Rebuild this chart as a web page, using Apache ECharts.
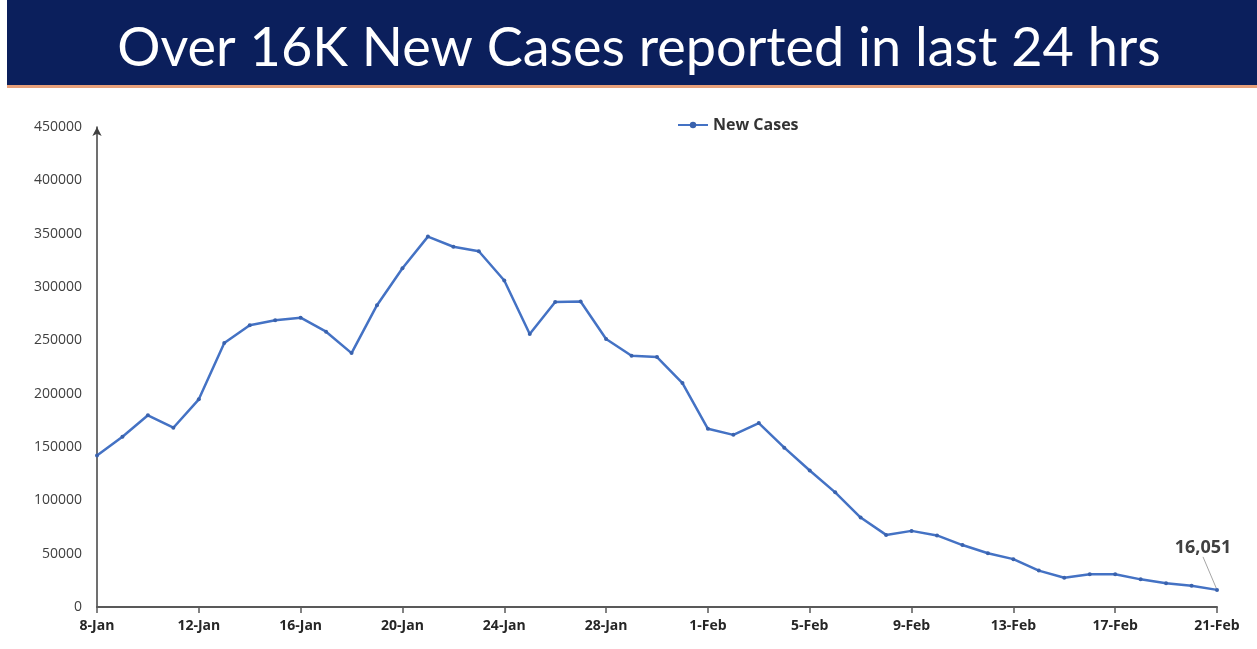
<!DOCTYPE html>
<html>
<head>
<meta charset="utf-8">
<script src="https://cdn.jsdelivr.net/npm/echarts@6/dist/echarts.min.js"></script>
<style>
html,body{margin:0;padding:0;background:#fff;}
#chart{width:1257px;height:649px;}
</style>
</head>
<body>
<div id="chart"></div>
<script>
const titleText = "Over 16K New Cases reported in last 24 hrs";
const seriesName = "New Cases";
const categories = ["8-Jan","9-Jan","10-Jan","11-Jan","12-Jan","13-Jan","14-Jan","15-Jan","16-Jan","17-Jan","18-Jan","19-Jan","20-Jan","21-Jan","22-Jan","23-Jan","24-Jan","25-Jan","26-Jan","27-Jan","28-Jan","29-Jan","30-Jan","31-Jan","1-Feb","2-Feb","3-Feb","4-Feb","5-Feb","6-Feb","7-Feb","8-Feb","9-Feb","10-Feb","11-Feb","12-Feb","13-Feb","14-Feb","15-Feb","16-Feb","17-Feb","18-Feb","19-Feb","20-Feb","21-Feb"];
const newCases = [141986,159632,179723,168063,194720,247417,264202,268833,271202,258089,238018,282970,317532,347254,337704,333533,306064,255874,285914,286384,251209,235532,234281,209918,167059,161386,172433,149394,127952,107474,83876,67597,71365,67084,58077,50407,44877,34113,27409,30615,30757,25920,22270,19968,16051];
const yTicks = [0,50000,100000,150000,200000,250000,300000,350000,400000,450000];

const chart = echarts.init(document.getElementById('chart'));
const lastIdx = newCases.length - 1;
const seriesData = newCases.map((v, i) => i === lastIdx ? {
  value: v,
  label: {
    show: true,
    formatter: (p) => p.value.toLocaleString('en-US'),
    position: 'top',
    fontFamily: 'Open Sans',
    fontWeight: 'bold',
    fontSize: 18,
    color: '#404040'
  },
  labelLine: { show: true, lineStyle: { color: '#a6a6a6', width: 1 } }
} : v);

chart.setOption({
  animation: false,
  backgroundColor: '#ffffff',
  graphic: [
    { type: 'rect', shape: { x: 7, y: 0, width: 1250, height: 85 }, style: { fill: '#0b1f5c' }, z: 0 },
    { type: 'rect', shape: { x: 7, y: 85, width: 1250, height: 3 }, style: { fill: '#e8a07a' }, z: 0 }
  ],
  title: {
    text: titleText,
    left: 634,
    textAlign: 'center',
    top: 17,
    textStyle: { color: '#ffffff', fontFamily: 'Lato', fontWeight: 'normal', fontSize: 54 }
  },
  legend: {
    left: 672,
    top: 112,
    itemWidth: 30,
    itemHeight: 8,
    itemGap: 2,
    textStyle: { fontFamily: 'Open Sans', fontSize: 16, color: '#333333', fontWeight: 'bold' },
    data: [seriesName]
  },
  grid: { left: 97, right: 40, top: 127, bottom: 42, containLabel: false },
  xAxis: {
    type: 'category',
    data: categories,
    boundaryGap: false,
    axisLine: { lineStyle: { color: '#595959', width: 2 } },
    axisTick: { show: true, interval: 3, length: 6, lineStyle: { color: '#595959', width: 1.5 } },
    axisLabel: { interval: 3, fontFamily: 'Open Sans', fontWeight: 'bold', fontSize: 14, color: '#262626', margin: 12 },
    splitLine: { show: false }
  },
  yAxis: {
    type: 'value',
    min: 0,
    max: 450000,
    interval: 50000,
    axisLine: { show: true, symbol: ['none', 'arrow'], symbolSize: [7, 9], lineStyle: { color: '#404040', width: 1.5 } },
    axisTick: { show: false },
    axisLabel: { fontFamily: 'Open Sans', fontSize: 14, color: '#404040', margin: 15, formatter: (v) => String(v) },
    splitLine: { show: false }
  },
  series: [{
    name: seriesName,
    type: 'line',
    data: seriesData,
    symbol: 'circle',
    symbolSize: 4,
    showAllSymbol: true,
    lineStyle: { color: '#4472c4', width: 2.5 },
    itemStyle: { color: '#3a62ad' },
    labelLayout: (params) => params.dataIndex === lastIdx ? { dx: -14, dy: -26 } : {}
  }]
});
</script>
</body>
</html>
